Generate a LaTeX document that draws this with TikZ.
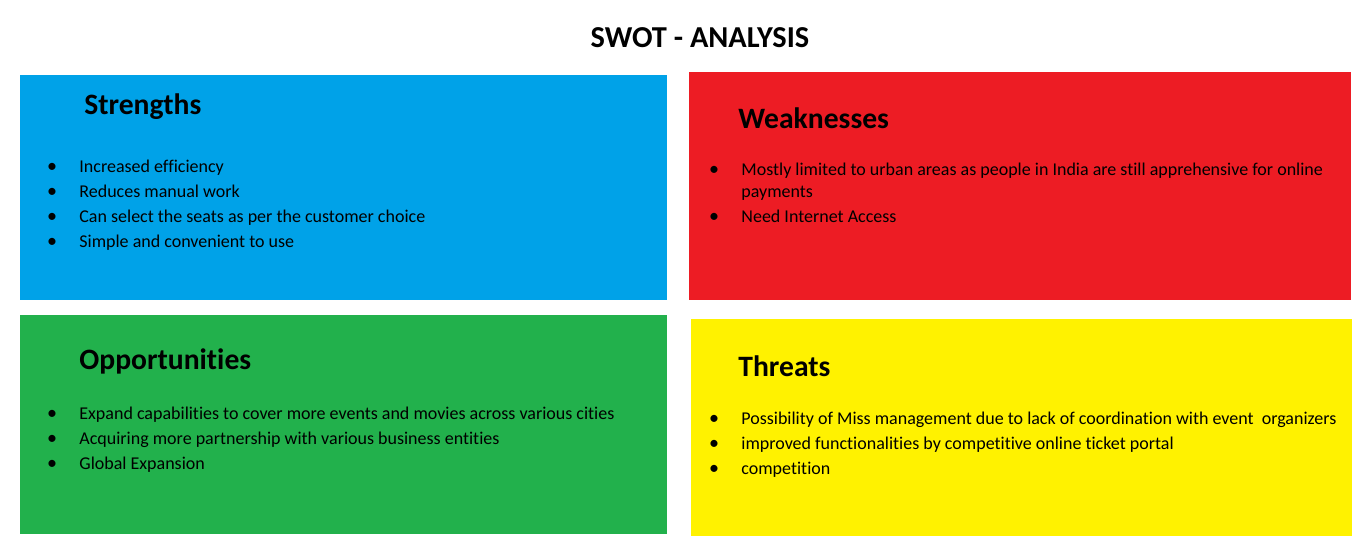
\documentclass[tikz,border=0pt]{standalone}
\usepackage{fontspec}
\setmainfont[Ligatures=CommonOff]{Carlito}
\usepackage{tikz}
\usetikzlibrary{positioning}
\definecolor{swotblue}{HTML}{00A2E8}
\definecolor{swotred}{HTML}{ED1C24}
\definecolor{swotgreen}{HTML}{22B14C}
\definecolor{swotyellow}{HTML}{FFF200}

\begin{document}
\begin{tikzpicture}[x=0.5pt,y=-0.5pt,
  head/.style={anchor=west,inner sep=0pt,font=\fontsize{14.8}{17}\selectfont\bfseries},
  item/.style={anchor=west,inner sep=0pt,text height=6.6pt,text depth=2pt,
               font=\fontsize{9}{11}\selectfont},
  dot/.style={inner sep=0pt,font=\fontsize{10}{11}\selectfont}]
  \useasboundingbox (0,0) rectangle (1370,552);
  \node[inner sep=0pt,font=\fontsize{15.2}{17}\selectfont\bfseries] (title) at (700,38) {SWOT - ANALYSIS};

  % the four quadrants
  \fill[swotblue]   (20,75)  rectangle (667,300);
  \fill[swotred]    (689,72) rectangle (1351,300);
  \fill[swotgreen]  (20,315) rectangle (667,534);
  \fill[swotyellow] (691,319) rectangle (1352,536);

  % Strengths
  \node[head] (strengths) at (84,107) {Strengths};
  \foreach \txt [count=\i] in {Increased efficiency,Reduces manual work,
      Can select the seats as per the customer choice,Simple and convenient to use}{
    \node[dot] (sdot\i) at (52,{143+25*\i}) {\textbullet};
    \node[item] (sitem\i) at (79,{143+25*\i}) {\txt};
  }

  % Weaknesses
  \node[head] (weaknesses) at (738,118) {Weaknesses};
  \node[dot] (wdot1) at (714,171) {\textbullet};
  \node[item] (witem1) at (741,171) {Mostly limited to urban areas as people in India are still apprehensive for online};
  \node[item] (witem1b) at (741,193) {payments};
  \node[dot] (wdot2) at (714,218) {\textbullet};
  \node[item] (witem2) at (741,218) {Need Internet Access};

  % Opportunities
  \node[head] (opportunities) at (79,361) {Opportunities};
  \foreach \txt [count=\i] in {Expand capabilities to cover more events and movies across various cities,
      Acquiring more partnership with various business entities,Global Expansion}{
    \node[dot] (odot\i) at (52,{390+25*\i}) {\textbullet};
    \node[item] (oitem\i) at (79,{390+25*\i}) {\txt};
  }

  % Threats
  \node[head] (threats) at (738,366) {Threats};
  \foreach \txt [count=\i] in {Possibility of Miss management due to lack of coordination with event\ \ organizers,
      improved functionalities by competitive online ticket portal,competition}{
    \node[dot] (tdot\i) at (714,{395+25*\i}) {\textbullet};
    \node[item] (titem\i) at (741,{395+25*\i}) {\txt};
  }
\end{tikzpicture}
\end{document}
